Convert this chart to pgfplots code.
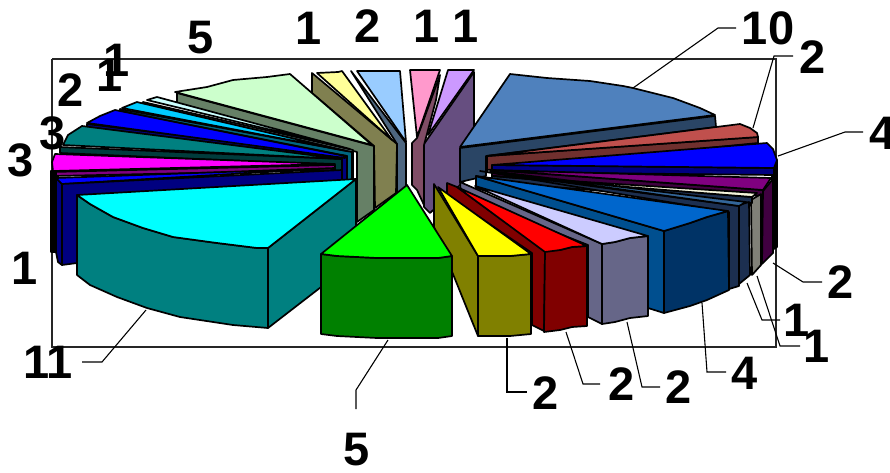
\documentclass[border=0pt]{standalone}
\usepackage{fontspec}
\setmainfont{Liberation Sans}
\usepackage{pgfplots}
\pgfplotsset{compat=1.18}

% one filled face of the exploded pie, pixel coordinates
\newcommand{\face}[2]{\xglobal\definecolor{c#1}{HTML}{#1}\addplot[fill=c#1,draw=black,line width=1.7pt,line join=round,no markers] coordinates {#2} -- cycle;}
\newcommand{\lead}[1]{\addplot[draw=black,line width=1.1pt,no markers] coordinates {#1};}
\newcommand{\lab}[3]{\node[font=\fontsize{47}{47}\selectfont\bfseries,inner sep=0pt] at (axis cs:#1,#2) {#3};}

\begin{document}
\begin{tikzpicture}
\path[use as bounding box,clip] (0,0) rectangle (890pt,472pt);
\begin{axis}[
    at={(0,0)},anchor=south west,
    scale only axis,width=890pt,height=472pt,
    xmin=0,xmax=890,ymin=0,ymax=472,y dir=reverse,
    hide axis,clip=false,
]
% frame
\addplot[draw=black!85,line width=1.2pt,no markers] coordinates {(52,59)(776,59)(776,347)(52,347)(52,59)};

% back slices, purple to pale green
\face{664E80}{(424,144)(474,72)(474,172)(430,213)(424,207)}
\face{CC99FF}{(428,135)(448,70)(474,70)}
\face{804D66}{(412,143)(417,138)(440,75)(436,100)(424,145)(424,205)(417,190)(412,185)}
\face{FF99CC}{(410,70)(440,70)(417,137)}
\face{4D6680}{(351,71)(406,143)(406,190)(397,198)(397,144)}
\face{99CCFF}{(357,71)(400,71)(406,142)}
\face{808050}{(312,73)(397,144)(396,193)(375,208)(374,146)(312,93)}
\face{FFFF99}{(317,73)(338,72)(342,71)(392,140)}
\face{668066}{(177,93)(374,146)(374,210)(357,222)(357,152)(177,105)}
\face{CCFFCC}{(175,92)(207,87)(233,80)(267,77)(290,74)(372,145)}

% thin slices on the left
\face{668080}{(143,102)(353,150)(353,182)(350,182)(350,152)(143,104)}
\face{CCFFFF}{(147,100)(157,97)(350,149)}
\face{006680}{(120,109)(352,152)(352,182)(347,182)(347,156)(120,111)}
\face{00CCFF}{(122,108)(137,102)(141,103)(347,151)}
\face{000080}{(87,124)(347,156)(347,182)(342,182)(342,159)(87,127)}
\face{0000FF}{(87,123)(100,116)(115,110)(345,156)(345,158)}
\face{003C3C}{(60,147)(342,159)(342,182)(335,182)(335,165)(60,153)}
\face{008080}{(63,145)(68,135)(82,126)(342,159)}
\face{800080}{(52,172)(335,165)(335,170)(54,176)}
\face{FF00FF}{(55,154)(52,162)(53,171)(335,164)}
\face{000000}{(51,171)(56,171)(56,252)(51,252)}
\face{000080}{(56,178)(62,184)(62,265)(58,262)(56,252)}
\face{0000FF}{(56,178)(335,168)(62,184)}
\face{000080}{(62,184)(342,170)(342,260)(77,263)(62,265)}

% cyan, 11
\face{008080}{(268,248)(356,179)(356,260)(268,328)}
\face{008080}{(77,195)(90,204)(113,217)(143,228)(173,237)(217,243)(257,248)(268,248)(268,328)(233,325)(180,317)(147,308)(117,297)(90,285)(77,275)}
\face{00FFFF}{(77,195)(356,179)(268,248)(257,248)(217,243)(173,237)(143,228)(113,217)(90,204)}

% right side, steel blue downwards
\face{2A4565}{(460,148)(715,116)(716,127)(486,156)(486,176)(460,182)}
\face{4F81BD}{(460,147)(510,74)(547,78)(590,81)(623,86)(633,88)(673,98)(700,108)(715,115)}
\face{70302E}{(487,156)(758,137)(758,143)(487,170)}
\face{C0504D}{(487,156)(740,124)(750,128)(757,133)(758,137)}
\face{000000}{(772,160)(777,160)(777,247)(772,250)}
\face{000080}{(492,165)(774,168)(774,175)(492,172)}
\face{0000FF}{(492,165)(767,143)(773,149)(777,160)(774,168)}
\face{400040}{(773,179)(763,191)(762,264)(773,253)}
\face{400040}{(492,170)(763,190)(763,196)(492,176)}
\face{800080}{(492,170)(771,178)(763,190)}
\face{808078}{(751,200)(761,194)(761,265)(752,275)}
\face{1C2F50}{(492,176)(752,197)(752,203)(492,182)}
\face{F5F5DC}{(492,176)(757,193)(752,197)}
\face{1C2F50}{(739,205)(749,202)(750,275)(739,284)}
\face{1C2F50}{(480,171)(739,206)(739,286)(729,289)(729,212)}
\face{336699}{(490,171)(746,202)(739,206)}
\face{004F8F}{(476,176)(664,231)(664,313)(648,308)(648,240)(476,188)}
\face{003366}{(664,231)(690,223)(707,217)(728,211)(729,290)(707,300)(690,306)(664,313)}
\face{0066CC}{(476,176)(728,211)(707,217)(690,223)(664,231)}
\face{666688}{(460,182)(602,244)(602,324)(588,317)(588,245)(461,195)}
\face{666688}{(602,244)(615,242)(630,238)(648,236)(648,316)(630,318)(615,322)(602,324)}
\face{CCCCFF}{(475,186)(648,236)(630,238)(615,242)(602,244)}
\face{800000}{(447,183)(457,187)(545,251)(544,331)(532,325)(532,253)(447,195)}
\face{800000}{(545,251)(560,250)(572,247)(587,246)(587,326)(572,327)(560,330)(544,332)}
\face{FF0000}{(457,187)(587,246)(572,247)(560,250)(545,252)}
\face{808000}{(434,184)(478,256)(478,336)(434,227)}
\face{808000}{(478,256)(510,256)(531,254)(531,334)(510,336)(478,336)}
\face{FFFF00}{(438,187)(531,254)(510,256)(478,256)}
\face{008000}{(321,254)(337,256)(377,258)(438,258)(452,256)(452,336)(438,338)(377,338)(337,336)(321,334)}
\face{00FF00}{(407,185)(452,256)(438,258)(377,258)(337,256)(321,254)}

% leader lines
\lead{(633,88)(718,28)(736,28)}
\lead{(753,128)(774,56)(793,56)}
\lead{(778,156)(845,132)(863,132)}
\lead{(773,263)(803,282)(822,282)}
\lead{(747,283)(762,320)(780,320)}
\lead{(757,276)(780,346)(800,346)}
\lead{(702,303)(707,372)(726,372)}
\lead{(627,322)(642,387)(660,387)}
\lead{(566,332)(583,384)(600,384)}
\lead{(507,338)(507,392)(527,392)}
\lead{(388,340)(356,390)(356,409)}
\lead{(146,310)(102,362)(82,362)}

% data labels
\lab{201}{38}{5}
\lab{117}{60}{1}
\lab{110}{75}{1}
\lab{71}{90}{2}
\lab{53}{133}{3}
\lab{21}{160}{3}
\lab{25}{268}{1}
\lab{48}{362}{11}
\lab{309}{28}{1}
\lab{368}{26}{2}
\lab{427}{26}{1}
\lab{466}{26}{1}
\lab{768}{28}{10}
\lab{813}{57}{2}
\lab{883}{133}{4}
\lab{841}{282}{2}
\lab{797}{320}{1}
\lab{817}{346}{1}
\lab{745}{373}{4}
\lab{679}{387}{2}
\lab{622}{384}{2}
\lab{546}{393}{2}
\lab{357}{450}{5}
\end{axis}
\end{tikzpicture}
\end{document}
